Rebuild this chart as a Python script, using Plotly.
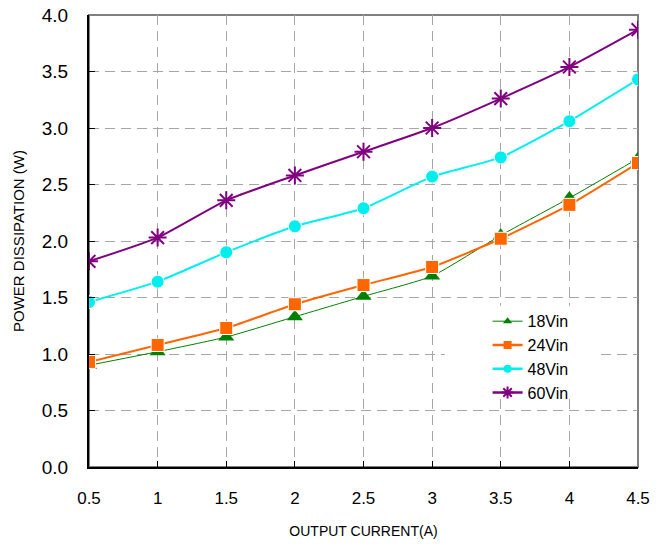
import plotly.graph_objects as go

current = [0.5, 1, 1.5, 2, 2.5, 3, 3.5, 4, 4.5]
vin18 = [0.90, 1.02, 1.15, 1.33, 1.51, 1.69, 2.05, 2.38, 2.73]
vin24 = [0.93, 1.08, 1.23, 1.44, 1.61, 1.77, 2.02, 2.32, 2.69]
vin48 = [1.46, 1.64, 1.90, 2.13, 2.29, 2.57, 2.74, 3.06, 3.43]
vin60 = [1.82, 2.03, 2.36, 2.58, 2.79, 3.00, 3.26, 3.54, 3.87]
series_names = ["18Vin", "24Vin", "48Vin", "60Vin"]
x_ticks = [0.5, 1, 1.5, 2, 2.5, 3, 3.5, 4, 4.5]
x_labels = ["0.5", "1", "1.5", "2", "2.5", "3", "3.5", "4", "4.5"]
y_ticks = [0, 0.5, 1, 1.5, 2, 2.5, 3, 3.5, 4]
y_labels = ["0.0", "0.5", "1.0", "1.5", "2.0", "2.5", "3.0", "3.5", "4.0"]

styles = [
    dict(color="#008000", width=1, symbol="triangle-up", size=14, lsize=8, outline=None),
    dict(color="#FF6600", width=2, symbol="square", size=13, lsize=8, outline="white"),
    dict(color="#00EEEE", width=2, symbol="circle", size=13, lsize=8, outline="white"),
    dict(color="#800080", width=2, symbol="asterisk-open", size=15, lsize=10, outline=None),
]
data = [vin18, vin24, vin48, vin60]

fig = go.Figure()
for name, ys, st in zip(series_names, data, styles):
    if st["symbol"] == "asterisk-open":
        mline = dict(color=st["color"], width=2)
    elif st["outline"]:
        mline = dict(color=st["outline"], width=1)
    else:
        mline = dict(width=0)
    fig.add_trace(go.Scatter(
        x=current, y=ys, name=name, mode="lines+markers", showlegend=False,
        line=dict(color=st["color"], width=st["width"], shape="spline", smoothing=0.5),
        marker=dict(symbol=st["symbol"], size=st["size"], color=st["color"], line=mline)))
    # legend entry with smaller marker, as in the reference legend
    lmline = dict(color=st["color"], width=2) if st["symbol"] == "asterisk-open" else dict(width=0)
    fig.add_trace(go.Scatter(
        x=[None], y=[None], name=name, mode="lines+markers", showlegend=True,
        line=dict(color=st["color"], width=st["width"] + (0.5 if st["width"] > 1 else 0)),
        marker=dict(symbol=st["symbol"], size=st["lsize"], color=st["color"], line=lmline)))

fig.update_layout(
    width=670, height=547,
    margin=dict(l=89, r=32, t=15, b=80, autoexpand=False),
    paper_bgcolor="white", plot_bgcolor="white",
    font=dict(family="Liberation Sans, Arial, sans-serif", color="black"),
    showlegend=True,
    legend=dict(x=0.726, y=0.36, xanchor="left", yanchor="top",
                bgcolor="rgba(0,0,0,0)", font=dict(size=16), tracegroupgap=0),
    shapes=[
        dict(type="rect", xref="paper", yref="paper", x0=0, y0=0, x1=1, y1=1,
             line=dict(color="#808080", width=2), layer="below"),
        # white legend area hiding the grid behind the legend
        dict(type="rect", xref="paper", yref="paper", x0=0.648, x1=0.922, y0=0.153, y1=0.357,
             fillcolor="white", line=dict(width=0), layer="above"),
    ],
)
fig.update_xaxes(range=[0.5, 4.5], tickvals=x_ticks, ticktext=x_labels,
                 showgrid=True, gridcolor="#A6A6A6", griddash="10px,6px", gridwidth=1,
                 showline=True, linecolor="black", linewidth=2,
                 ticks="inside", ticklen=6, tickcolor="black",
                 ticklabelstandoff=15, automargin=False, ticklabeloverflow="allow",
                 tickfont=dict(size=17),
                 title=dict(text="OUTPUT CURRENT(A)", font=dict(size=14), standoff=19),
                 zeroline=False)
fig.update_yaxes(range=[0, 4], tickvals=y_ticks, ticktext=y_labels,
                 showgrid=True, gridcolor="#A6A6A6", griddash="10px,6px", gridwidth=1,
                 showline=True, linecolor="black", linewidth=2,
                 ticks="inside", ticklen=6, tickcolor="black",
                 ticklabelstandoff=15, automargin=False, ticklabeloverflow="allow",
                 tickfont=dict(size=19),
                 title=dict(text="POWER DISSIPATION (W)", font=dict(size=15), standoff=14),
                 zeroline=False)

# remove the default 8px page margin so the 670x547 figure fills the window exactly
fig.write_html("out.html", config={"displayModeBar": False},
               post_script="document.body.style.margin='0';")
